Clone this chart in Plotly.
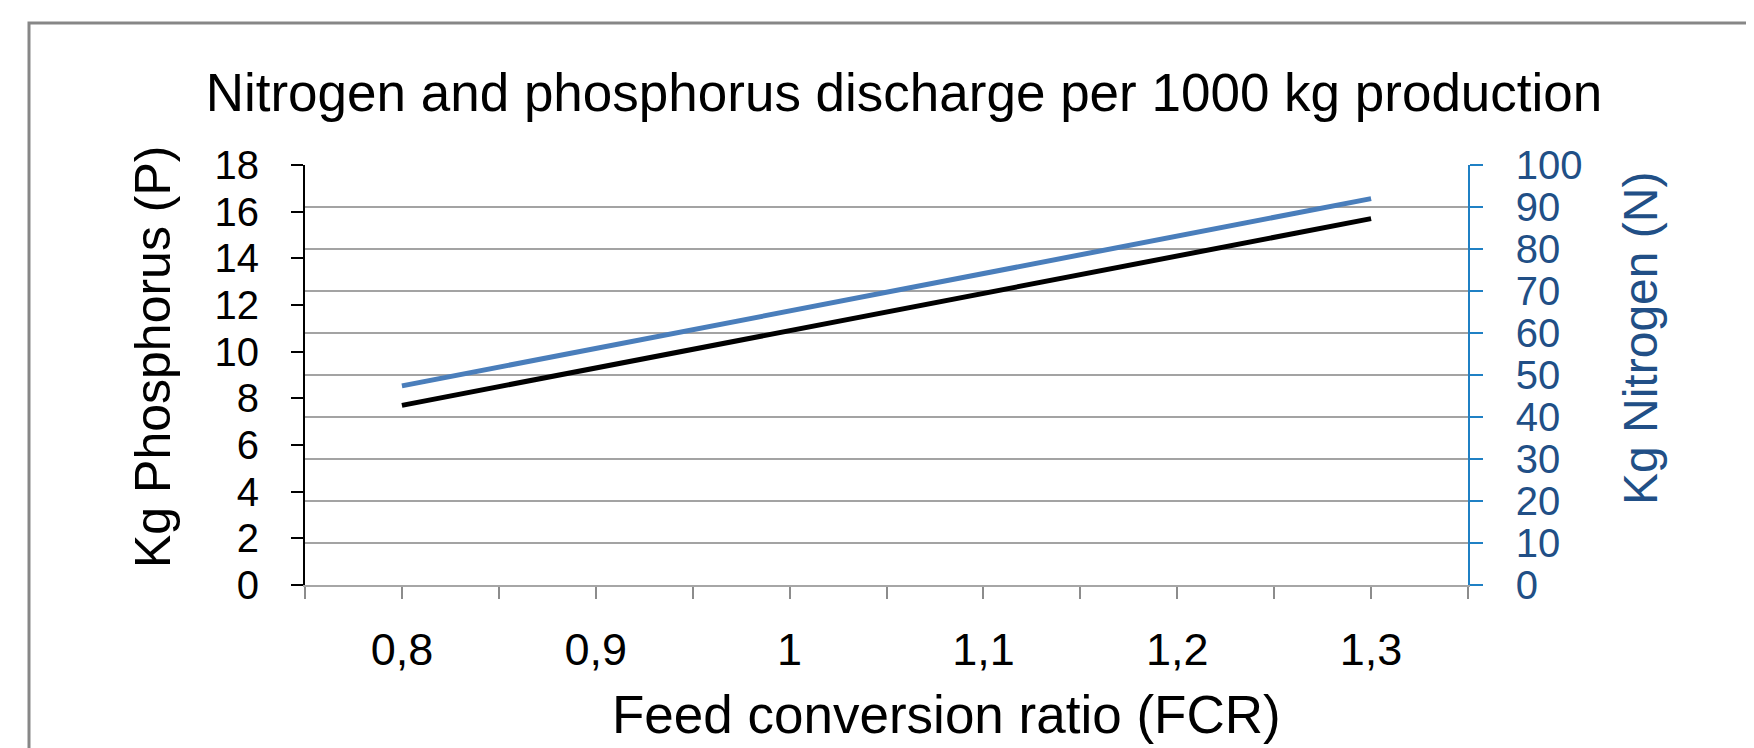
import plotly.graph_objects as go

# ---- data ----
fcr = [0.8, 0.9, 1.0, 1.1, 1.2, 1.3]
fcr_labels = ["0,8", "0,9", "1", "1,1", "1,2", "1,3"]
phosphorus = [7.7, 9.3, 10.9, 12.5, 14.1, 15.7]
nitrogen = [47.4, 56.3, 65.2, 74.1, 83.0, 92.0]

title_text = "Nitrogen and phosphorus discharge per 1000 kg production"
x_title = "Feed conversion ratio (FCR)"
y_left_title = "Kg Phosphorus (P)"
y_right_title = "Kg Nitrogen (N)"

FONT = "Arial, Liberation Sans, Helvetica, sans-serif"
BLUE_LINE = "#4A7EBB"
BLUE_AXIS = "#1F80C4"
BLUE_TEXT = "#214F86"
GRID = "#A3A3A3"

fig = go.Figure()
fig.add_trace(go.Scatter(x=fcr, y=phosphorus, mode="lines", yaxis="y",
                         line=dict(color="#000000", width=5), name="P"))
fig.add_trace(go.Scatter(x=fcr, y=nitrogen, mode="lines", yaxis="y2",
                         line=dict(color=BLUE_LINE, width=5), name="N"))

# page body has an 8px margin: the figure is drawn 8px right / 8px down
OFF = 8
W, H = 1754 - OFF, 748 - OFF
L, R, T, B = 305 - OFF, 1468 - OFF, 165 - OFF, 585 - OFF


def px_x(p):
    return (p - OFF - L) / (R - L)


def px_y(p):
    return (B - (p - OFF)) / (B - T)


fig.update_layout(
    width=W, height=H,
    margin=dict(l=L, r=W - R, t=T, b=H - B),
    paper_bgcolor="white", plot_bgcolor="white",
    showlegend=False,
    font=dict(family=FONT, color="#000000"),
    title=dict(text=title_text, x=(904 - OFF) / W, y=1 - (92 - OFF) / H,
               xanchor="center", yanchor="middle",
               font=dict(size=53, family=FONT, color="#000000")),
    xaxis=dict(
        range=[0.75, 1.35], tickmode="array", tickvals=fcr, ticktext=fcr_labels,
        ticks="outside", ticklen=12, tickwidth=1.5, tickcolor="#8C8C8C",
        showline=True, linecolor="#A6A6A6", linewidth=2, showgrid=False,
        zeroline=False, tickfont=dict(size=45, color="#000000"),
        ticklabelstandoff=12,
        minor=dict(ticks="outside", ticklen=12, tickwidth=1.5, tickcolor="#8C8C8C",
                   dtick=0.05, tick0=0.75, showgrid=False),
    ),
    yaxis=dict(
        range=[0, 18], dtick=2, tick0=0, ticks="outside", ticklen=12, tickwidth=1.5,
        tickcolor="#000000", showline=True, linecolor="#000000", linewidth=2,
        showgrid=False, zeroline=False, tickfont=dict(size=40, color="#000000"),
        ticklabelstandoff=24,
    ),
    yaxis2=dict(
        range=[0, 100], dtick=10, tick0=0, overlaying="y", side="right",
        ticks="outside", ticklen=13, tickwidth=1.5, tickcolor=BLUE_AXIS,
        showline=True, linecolor=BLUE_AXIS, linewidth=1.5,
        showgrid=True, gridcolor=GRID, gridwidth=2, zeroline=False,
        tickfont=dict(size=40, color=BLUE_TEXT), ticklabelstandoff=25,
    ),
    annotations=[
        dict(text=y_left_title, textangle=-90, xref="paper", yref="paper",
             x=px_x(153), y=px_y(357), xanchor="center", yanchor="middle",
             showarrow=False, font=dict(size=50, color="#000000", family=FONT)),
        dict(text=y_right_title, textangle=-90, xref="paper", yref="paper",
             x=px_x(1640), y=px_y(339), xanchor="center", yanchor="middle",
             showarrow=False, font=dict(size=48, color=BLUE_TEXT, family=FONT)),
        dict(text=x_title, xref="paper", yref="paper",
             x=px_x(946), y=px_y(714), xanchor="center", yanchor="middle",
             showarrow=False, font=dict(size=53, color="#000000", family=FONT)),
    ],
    shapes=[
        dict(type="rect", xref="paper", yref="paper",
             x0=px_x(29), x1=px_x(1800), y0=px_y(800), y1=px_y(23),
             line=dict(color="#878787", width=3), fillcolor="rgba(0,0,0,0)",
             layer="below"),
    ],
)

fig.write_html("out.html")
